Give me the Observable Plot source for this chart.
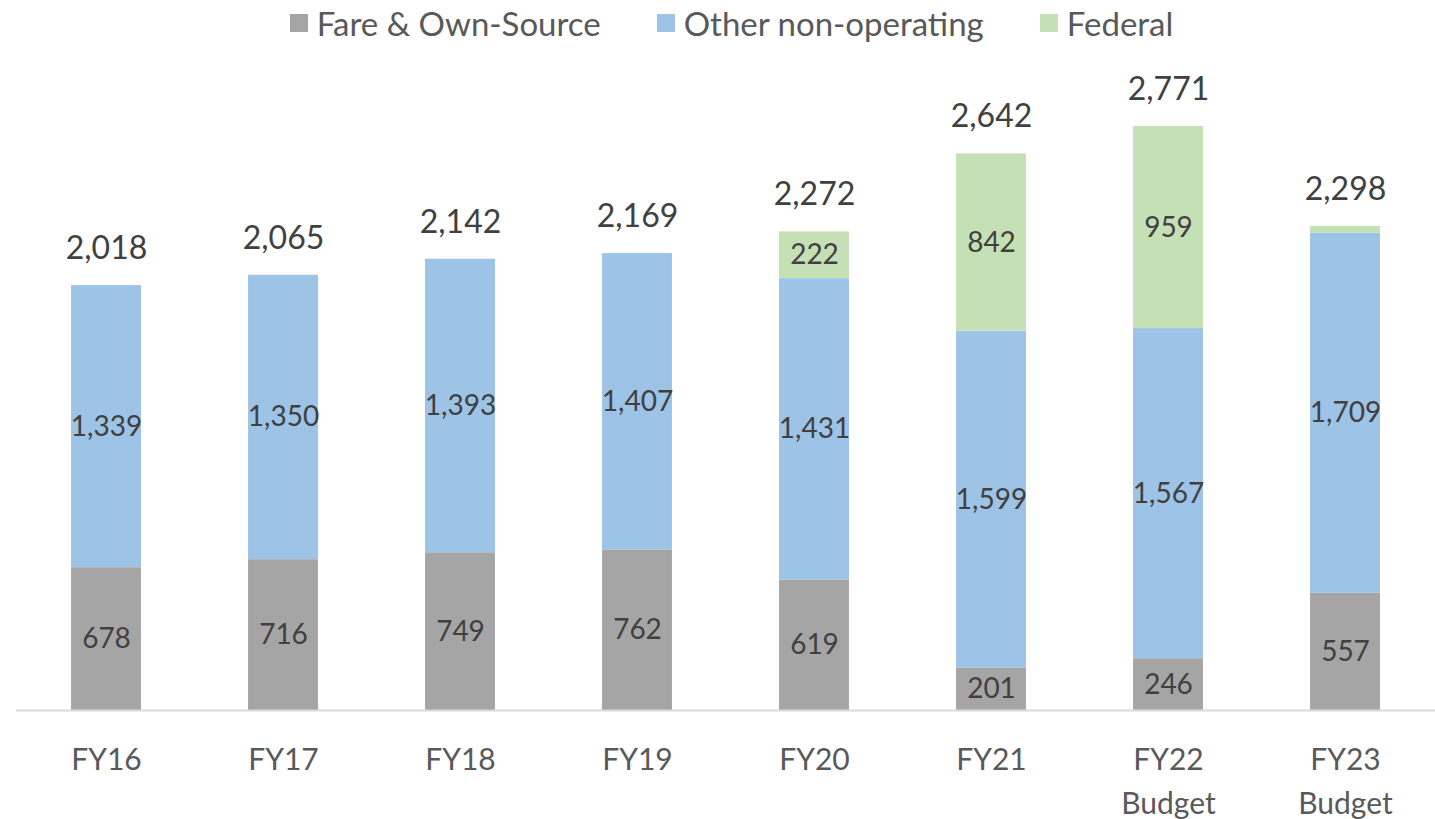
<!DOCTYPE html>
<html><head><meta charset="utf-8">
<script src="https://cdn.jsdelivr.net/npm/d3@7"></script>
<script src="https://cdn.jsdelivr.net/npm/@observablehq/plot@0.6"></script>
<style>
body{margin:0;background:#fff;font-family:Lato,sans-serif;}
#legend{height:46px;display:flex;justify-content:center;align-items:center;padding-left:28px;box-sizing:border-box;width:1435px;color:#595959;font-size:33px;}
.item{display:flex;align-items:center;margin:0 28px;}
.sw{width:18px;height:18px;margin-right:9px;display:inline-block;}
</style></head><body>
<div id="legend"></div><div id="chart"></div>
<script>
const categories = ["FY16","FY17","FY18","FY19","FY20","FY21","FY22\nBudget","FY23\nBudget"];
const fare = [678,716,749,762,619,201,246,557];
const other = [1339,1350,1393,1407,1431,1599,1567,1709];
const federal = [0,0,0,0,222,842,959,32];
const totals = [2018,2065,2142,2169,2272,2642,2771,2298];
const seriesNames = ["Fare & Own-Source","Other non-operating","Federal"];
const seriesColors = ["#A5A5A5","#9DC3E6","#C5E0B4"];

const seriesValues = [fare, other, federal];
const rows = [];
categories.forEach((c, i) => {
  seriesNames.forEach((s, j) => rows.push({cat: c, series: s, value: seriesValues[j][i]}));
});
const totalRows = categories.map((c, i) => ({cat: c, total: totals[i]}));
const fmt = d3.format(",");

const leg = document.getElementById("legend");
seriesNames.forEach((s, j) => {
  const it = document.createElement("div"); it.className = "item";
  const sw = document.createElement("span"); sw.className = "sw"; sw.style.background = seriesColors[j];
  const t = document.createElement("span"); t.textContent = s;
  it.appendChild(sw); it.appendChild(t); leg.appendChild(it);
});

const chart = Plot.plot({
  width: 1435,
  height: 773,
  marginLeft: 16,
  marginRight: 0,
  marginTop: 32,
  marginBottom: 109,
  style: {fontFamily: "Lato, sans-serif", background: "#fff"},
  x: {domain: categories, paddingInner: 0.605, paddingOuter: 0.311, round: false, axis: null},
  y: {domain: [0, 3000], axis: null},
  color: {domain: seriesNames, range: seriesColors},
  marks: [
    Plot.barY(rows, {x: "cat", y: "value", fill: "series"}),
    Plot.ruleY([0], {stroke: "#D9D9D9", strokeWidth: 2}),
    Plot.text(rows, Plot.stackY({x: "cat", y: "value", z: "series",
      text: d => d.value > 100 ? fmt(d.value) : "", fontSize: 28, fill: "#404040"})),
    Plot.text(totalRows, {x: "cat", y: "total", dy: -37, text: d => fmt(d.total), fontSize: 32, fill: "#404040"}),
    Plot.text(categories, {x: d => d, y: () => 0, dy: 29, lineAnchor: "top", lineHeight: 1.45, text: d => d, fontSize: 30, fill: "#595959"})
  ]
});
document.getElementById("chart").appendChild(chart);
</script>
</body></html>
